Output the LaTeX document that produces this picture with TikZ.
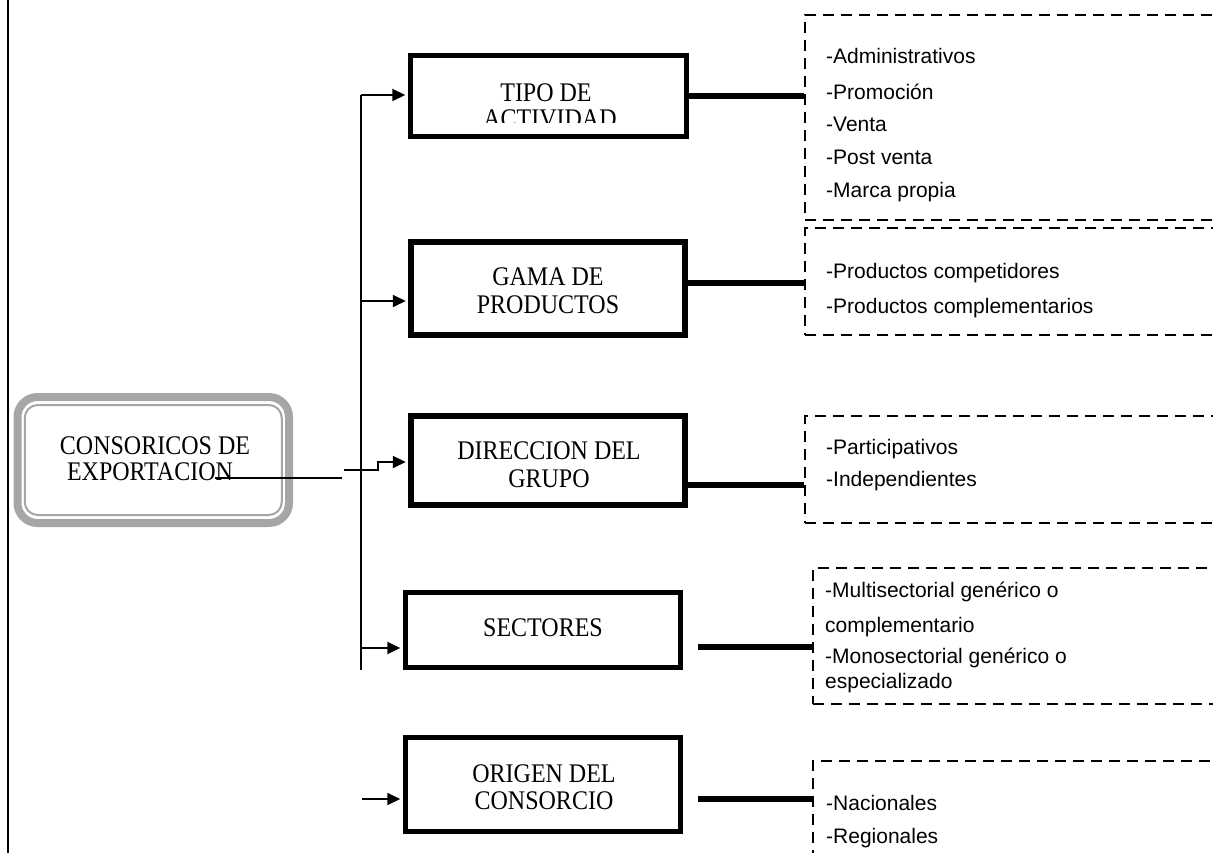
\documentclass[tikz,border=0pt]{standalone}
\usepackage{fontspec}
\usepackage{graphicx}
\setmainfont{Liberation Serif}
\newfontfamily\sansf{Liberation Sans}
\usetikzlibrary{arrows.meta}
\newcommand{\tallt}[1]{\scalebox{1}[1.12]{#1}}
\begin{document}
\begin{tikzpicture}[x=1pt,y=-1pt,
  bigbox/.style={draw=black, line width=5.5pt, inner sep=0pt},
  dbox/.style={draw=black, line width=2.3pt, dash pattern=on 11pt off 7pt, inner sep=0pt},
  serif/.style={font=\fontsize{24}{27}\selectfont, inner sep=0pt, anchor=base},
  item/.style={font=\sansf\fontsize{21}{24}\selectfont, inner sep=0pt, anchor=base west},
  arr/.style={line width=2pt, -{Triangle[length=13pt,width=12pt]}, shorten >=2.5pt},
  link/.style={line width=5.5pt},
  thinline/.style={line width=2pt},
  grayout/.style={draw=gray!70, inner sep=0pt}]
\useasboundingbox (0,0) rectangle (1213,853);
\clip (0,0) rectangle (1213,853);

% frame line
\coordinate (f-top) at (8,0);
\coordinate (f-bot) at (8,853);
\draw[line width=2pt] (f-top) -- (f-bot);

% central node
\node[grayout, line width=8pt, rounded corners=20pt, minimum width=271.5pt, minimum height=126pt] (cons) at (153.25,460) {};
\node[grayout, line width=2pt, rounded corners=13pt, minimum width=257pt, minimum height=110pt] (consin) at (153.25,460) {};
\node[serif] (cons-1) at (155,454) {\tallt{CONSORICOS DE}};
\node[serif] (cons-2) at (150,480) {\tallt{EXPORTACION}};

% category boxes
\node[bigbox, minimum width=276pt, minimum height=81pt] (tipo) at (548.5,96) {};
\node[bigbox, minimum width=274pt, minimum height=93pt] (gama) at (548,288.5) {};
\node[bigbox, minimum width=274pt, minimum height=89pt] (dir) at (548,460.5) {};
\node[bigbox, minimum width=275pt, minimum height=75pt] (sect) at (543,630) {};
\node[bigbox, minimum width=275pt, minimum height=94pt] (orig) at (543,784.5) {};

\node[serif] (tipo-1) at (546,101.7) {\tallt{TIPO DE}};
\begin{scope}
\clip (400,60) rectangle (690,123);
\node[serif] (tipo-2) at (550,128) {\tallt{ACTIVIDAD}};
\end{scope}
\node[serif] (gama-1) at (548,285) {\tallt{GAMA DE}};
\node[serif] (gama-2) at (548,313) {\tallt{PRODUCTOS}};
\node[serif] (dir-1) at (549,459) {\tallt{DIRECCION DEL}};
\node[serif] (dir-2) at (549,487) {\tallt{GRUPO}};
\node[serif] (sect-1) at (543,636) {\tallt{SECTORES}};
\node[serif] (orig-1) at (544,782) {\tallt{ORIGEN DEL}};
\node[serif] (orig-2) at (544,809) {\tallt{CONSORCIO}};

% dashed boxes
\node[dbox, minimum width=425pt, minimum height=205pt] (d1) at (1017.5,117.5) {};
\node[dbox, minimum width=425pt, minimum height=107pt] (d2) at (1017.5,281.5) {};
\node[dbox, minimum width=425pt, minimum height=107pt] (d3) at (1017.5,469.5) {};
\node[dbox, minimum width=417pt, minimum height=136pt] (d4) at (1021.5,636) {};
\node[dbox, minimum width=417pt, minimum height=139pt] (d5) at (1021.5,830.5) {};

% items
\node[item] (i1a) at (826,64) {-Administrativos};
\node[item] (i1b) at (826,100) {-Promoción};
\node[item] (i1c) at (826,132) {-Venta};
\node[item] (i1d) at (826,165) {-Post venta};
\node[item] (i1e) at (826,198) {-Marca propia};
\node[item] (i2a) at (826,278) {-Productos competidores};
\node[item] (i2b) at (826,313) {-Productos complementarios};
\node[item] (i3a) at (826,454) {-Participativos};
\node[item] (i3b) at (826,486) {-Independientes};
\node[item] (i4a) at (825,597) {-Multisectorial genérico o};
\node[item] (i4b) at (825,632) {complementario};
\node[item] (i4c) at (825,663) {-Monosectorial genérico o};
\node[item] (i4d) at (825,688) {especializado};
\node[item] (i5a) at (826,810) {-Nacionales};
\node[item] (i5b) at (826,843) {-Regionales};

% thick links
\draw[link] (tipo.east) -- (tipo.east -| d1.west);
\coordinate (g-out) at ([yshift=5.5pt]gama.east);
\draw[link] (g-out) -- (g-out -| d2.west);
\coordinate (r-out) at ([yshift=-24.5pt]dir.east);
\draw[link] (r-out) -- (r-out -| d3.west);
\coordinate (s-out) at ([xshift=14.5pt,yshift=-17pt]sect.east);
\draw[link] (s-out) -- (s-out -| d4.west);
\coordinate (o-out) at ([xshift=14.5pt,yshift=-14.5pt]orig.east);
\draw[link] (o-out) -- (o-out -| d5.west);

% trunk and arrows
\coordinate (trunk-top) at (361,95);
\coordinate (trunk-bot) at (361,670);
\draw[thinline] (trunk-top) -- (trunk-bot);
\draw[arr] (trunk-top) -- (trunk-top -| tipo.west);
\coordinate (a-gama) at (361,301);
\draw[arr] (a-gama) -- (a-gama -| gama.west);
\coordinate (a-dir) at (344,470);
\coordinate (a-dir2) at (378,462);
\draw[arr] (a-dir) -| (a-dir2) -- (a-dir2 -| dir.west);
\coordinate (a-sect) at (361,648);
\draw[arr] (a-sect) -- (a-sect -| sect.west);
\coordinate (a-orig) at (362,799);
\draw[arr] (a-orig) -- (a-orig -| orig.west);

% line from central box
\coordinate (c-start) at (215,478);
\coordinate (c-end) at (342,478);
\draw[thinline] (c-start) -- (c-end);
\end{tikzpicture}
\end{document}
